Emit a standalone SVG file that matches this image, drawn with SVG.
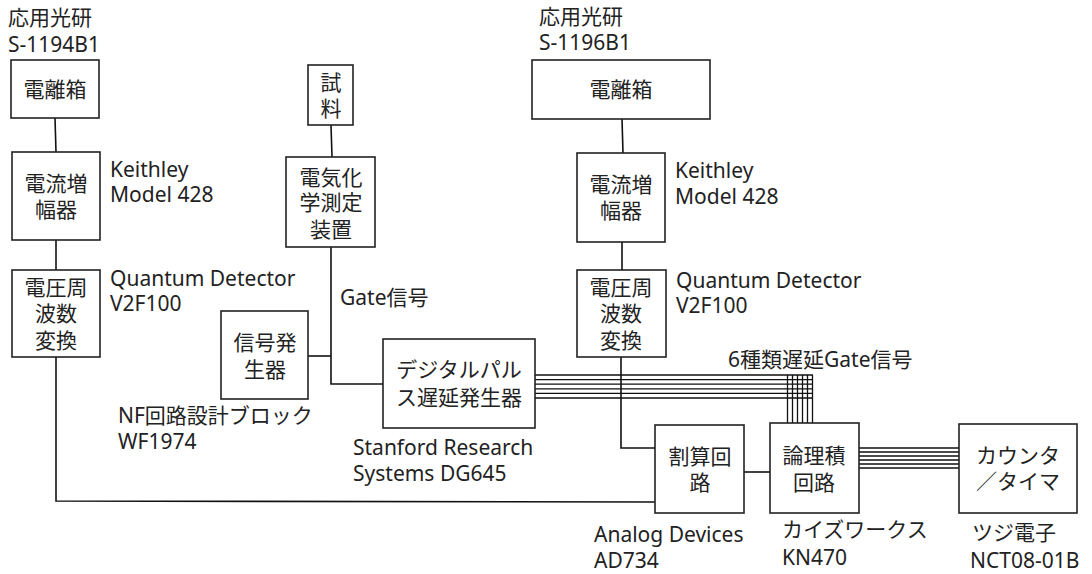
<svg xmlns="http://www.w3.org/2000/svg" width="1092" height="574" viewBox="0 0 1092 574">
<style>
text{font-family:"Noto Sans","Noto Sans CJK JP",sans-serif;font-size:21px;fill:#222}
.c{text-anchor:middle;dominant-baseline:central}
rect{fill:#fff;stroke:#222;stroke-width:1.6}
.w{fill:none;stroke:#111;stroke-width:1.6}
.b{fill:none;stroke:#111;stroke-width:1.3}
</style>
<rect x="0" y="0" width="1092" height="574" style="fill:#fff;stroke:none"/>
<g id="connectors">
<path class="w" d="M55 118L56 152"/>
<path class="w" d="M56 240V270"/>
<path class="w" d="M56 357V501L655 502"/>
<path class="w" d="M331 125L332 157"/>
<path class="w" d="M331 247V384H383"/>
<path class="w" d="M308 356H331"/>
<path class="w" d="M622 119L623 153"/>
<path class="w" d="M622 242V270"/>
<path class="w" d="M621 357V448H655"/>
<path class="w" d="M744 472H770"/>
<g class="b">
<path d="M535 375H813M535 379.6H813M535 384.2H813M535 388.8H813M535 393.4H813M535 398H813"/>
<path d="M787.5 375V423M792.5 375V423M797.5 375V423M802.5 375V423M807.5 375V423M812.5 375V423"/>
<path d="M859 448H959M859 452H959M859 456H959M859 460H959M859 464H959M859 468H959"/>
</g>
</g>
<g id="ion-chamber-1"><rect x="11" y="60" width="88" height="58"/><text class="c" x="55" y="89">電離箱</text></g>
<g id="amp-1"><rect x="12" y="152" width="88" height="88"/><text class="c" x="56" y="183">電流増</text><text class="c" x="56" y="209">幅器</text></g>
<g id="v2f-1"><rect x="12" y="270" width="88" height="87"/><text class="c" x="56" y="287">電圧周</text><text class="c" x="56" y="313">波数</text><text class="c" x="56" y="340">変換</text></g>
<g id="sample"><rect x="308" y="65" width="45" height="60"/><text class="c" x="331" y="82">試</text><text class="c" x="331" y="108">料</text></g>
<g id="electrochem"><rect x="286" y="157" width="89" height="90"/><text class="c" x="331" y="177">電気化</text><text class="c" x="331" y="202">学測定</text><text class="c" x="331" y="229">装置</text></g>
<g id="siggen"><rect x="221" y="311" width="87" height="88"/><text class="c" x="265" y="342">信号発</text><text class="c" x="265" y="369">生器</text></g>
<g id="dg645"><rect x="383" y="339" width="152" height="89"/><text class="c" x="459" y="369">デジタルパル</text><text class="c" x="459" y="397">ス遅延発生器</text></g>
<g id="ion-chamber-2"><rect x="532" y="60" width="178" height="59"/><text class="c" x="621" y="89">電離箱</text></g>
<g id="amp-2"><rect x="577" y="153" width="88" height="89"/><text class="c" x="621" y="184">電流増</text><text class="c" x="621" y="210">幅器</text></g>
<g id="v2f-2"><rect x="577" y="270" width="89" height="87"/><text class="c" x="621" y="287">電圧周</text><text class="c" x="621" y="313">波数</text><text class="c" x="621" y="340">変換</text></g>
<g id="divider"><rect x="655" y="425" width="89" height="88"/><text class="c" x="700" y="456">割算回</text><text class="c" x="700" y="482">路</text></g>
<g id="and-gate"><rect x="770" y="423" width="89" height="90"/><text class="c" x="814" y="455">論理積</text><text class="c" x="814" y="482">回路</text></g>
<g id="counter"><rect x="959" y="424" width="118" height="89"/><text class="c" x="1018" y="455">カウンタ</text><text class="c" x="1018" y="481">／タイマ</text></g>
<g id="labels">
<text x="8" y="25">応用光研</text><text x="8" y="52">S-1194B1</text>
<text x="110" y="177">Keithley</text><text x="110" y="202">Model 428</text>
<text x="110" y="286">Quantum Detector</text><text x="110" y="311">V2F100</text>
<text x="340" y="305">Gate信号</text>
<text x="118" y="423">NF回路設計ブロック</text><text x="118" y="449">WF1974</text>
<text x="353" y="455">Stanford Research</text><text x="353" y="481">Systems DG645</text>
<text x="539" y="24">応用光研</text><text x="539" y="50">S-1196B1</text>
<text x="675" y="178">Keithley</text><text x="675" y="204">Model 428</text>
<text x="676" y="288">Quantum Detector</text><text x="676" y="313">V2F100</text>
<text x="728" y="367">6種類遅延Gate信号</text>
<text x="594" y="542">Analog Devices</text><text x="594" y="568">AD734</text>
<text x="782" y="537">カイズワークス</text><text x="782" y="565">KN470</text>
<text x="972" y="540">ツジ電子</text><text x="970" y="568">NCT08-01B</text>
</g>
</svg>
